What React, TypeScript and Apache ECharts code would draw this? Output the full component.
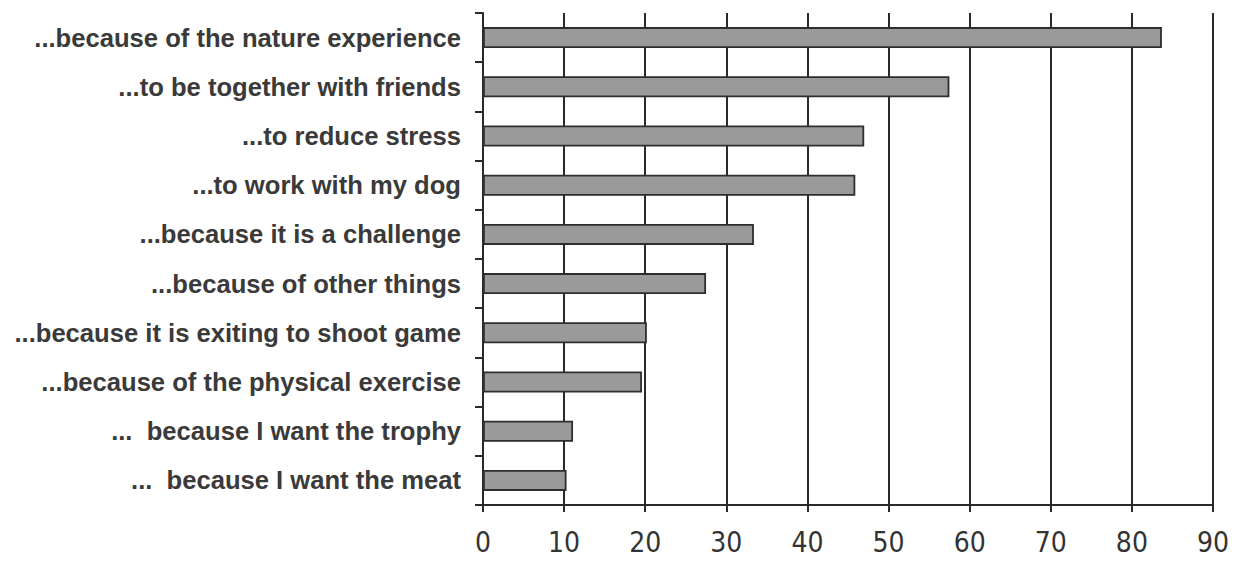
import React, { useEffect, useRef } from "react";
import * as echarts from "echarts";

const categories = [
  "...because of the nature experience",
  "...to be together with friends",
  "...to reduce stress",
  "...to work with my dog",
  "...because it is a challenge",
  "...because of other things",
  "...because it is exiting to shoot game",
  "...because of the physical exercise",
  "...  because I want the trophy",
  "...  because I want the meat",
];
const values = [83.7, 57.5, 47.0, 45.9, 33.4, 27.5, 20.2, 19.6, 11.1, 10.3];
const xTicks = { min: 0, max: 90, interval: 10 };

export default function App() {
  const ref = useRef<HTMLDivElement>(null);
  useEffect(() => {
    if (!ref.current) return;
    const chart = echarts.init(ref.current, undefined, { renderer: "svg" });
    chart.setOption({
      animation: false,
      backgroundColor: "#ffffff",
      grid: { left: 483, right: 24, top: 13, bottom: 58, containLabel: false },
      xAxis: {
        type: "value",
        min: xTicks.min,
        max: xTicks.max,
        interval: xTicks.interval,
        axisLine: { show: true, lineStyle: { color: "#2a2a2a", width: 2 } },
        axisTick: { show: true, length: 7, lineStyle: { color: "#2a2a2a", width: 2 } },
        splitLine: { show: true, lineStyle: { color: "#2a2a2a", width: 2 } },
        axisLabel: {
          margin: 23,
          fontFamily: "'Liberation Sans Narrow', 'DejaVu Sans Condensed', sans-serif",
          fontSize: 28,
          color: "#333333",
        },
      },
      yAxis: {
        type: "category",
        inverse: true,
        data: categories,
        axisLine: { show: true, lineStyle: { color: "#2a2a2a", width: 2 } },
        axisTick: { show: true, length: 8, lineStyle: { color: "#2a2a2a", width: 2 } },
        axisLabel: {
          margin: 22,
          fontFamily: "Liberation Sans, Arial, sans-serif",
          fontSize: 25.6,
          fontWeight: "bold",
          color: "#3a3a3a",
        },
      },
      series: [
        {
          type: "bar",
          data: values,
          barWidth: 21,
          itemStyle: { color: "#9a9a9a", borderColor: "#2e2e2e", borderWidth: 1.8 },
        },
      ],
    });
    return () => chart.dispose();
  }, []);
  return (
    <div
      ref={ref}
      style={{ position: "absolute", left: 0, top: 0, width: 1237, height: 563 }}
    />
  );
}
